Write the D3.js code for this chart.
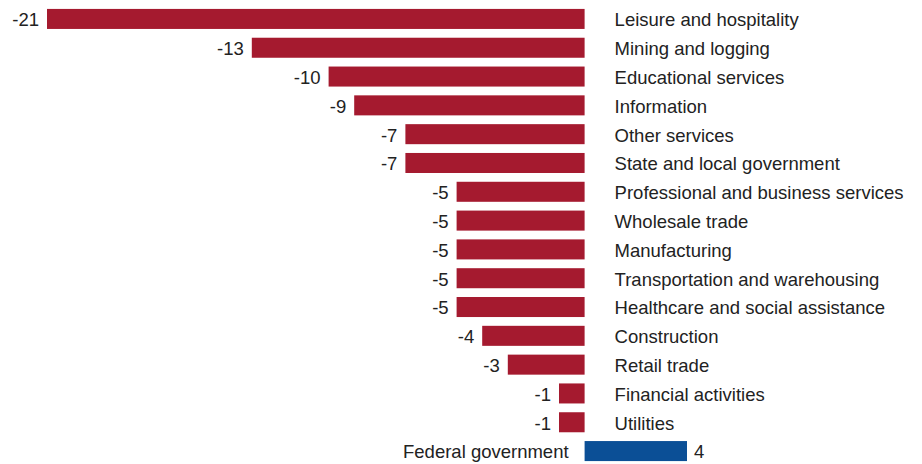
<!DOCTYPE html>
<html><head><meta charset="utf-8">
<script src="https://cdn.jsdelivr.net/npm/d3@7"></script>
<style>body{margin:0;background:#fff;} text{font-family:"Liberation Sans",Arial,sans-serif;}</style>
</head><body><svg id="c" width="922" height="464"></svg>
<script>
const categories = ["Leisure and hospitality","Mining and logging","Educational services","Information","Other services","State and local government","Professional and business services","Wholesale trade","Manufacturing","Transportation and warehousing","Healthcare and social assistance","Construction","Retail trade","Financial activities","Utilities","Federal government"];
const values = [-21,-13,-10,-9,-7,-7,-5,-5,-5,-5,-5,-4,-3,-1,-1,4];
const negColor = "#A51A2F", posColor = "#0B4F96";

const svg = d3.select("#c");
const x = d3.scaleLinear().domain([-21, 4]).range([47, 687]);
const y = d3.scaleBand().domain(categories).range([4.6, 465.4]).paddingInner(0.305).paddingOuter(0.15);
const data = categories.map((c,i)=>({c, v: values[i]}));
const fs = 18.5;

svg.selectAll("rect.bar").data(data).join("rect")
  .attr("x", d=>x(Math.min(0,d.v)))
  .attr("y", d=>y(d.c))
  .attr("width", d=>Math.abs(x(d.v)-x(0)))
  .attr("height", y.bandwidth())
  .attr("fill", d=>d.v<0?negColor:posColor);

// value labels
svg.selectAll("text.val").data(data).join("text")
  .attr("x", d=> d.v<0 ? x(d.v)-8 : x(d.v)+7)
  .attr("y", d=>y(d.c)+y.bandwidth()/2)
  .attr("dy","0.4em")
  .attr("text-anchor", d=>d.v<0?"end":"start")
  .attr("font-size", fs).attr("fill","#222")
  .text(d=>d.v);

// category labels
svg.selectAll("text.cat").data(data).join("text")
  .attr("x", d=> d.v<0 ? x(0)+30 : x(0)-16)
  .attr("y", d=>y(d.c)+y.bandwidth()/2)
  .attr("dy","0.4em")
  .attr("text-anchor", d=>d.v<0?"start":"end")
  .attr("font-size", fs).attr("fill","#222")
  .text(d=>d.c);
</script></body></html>
